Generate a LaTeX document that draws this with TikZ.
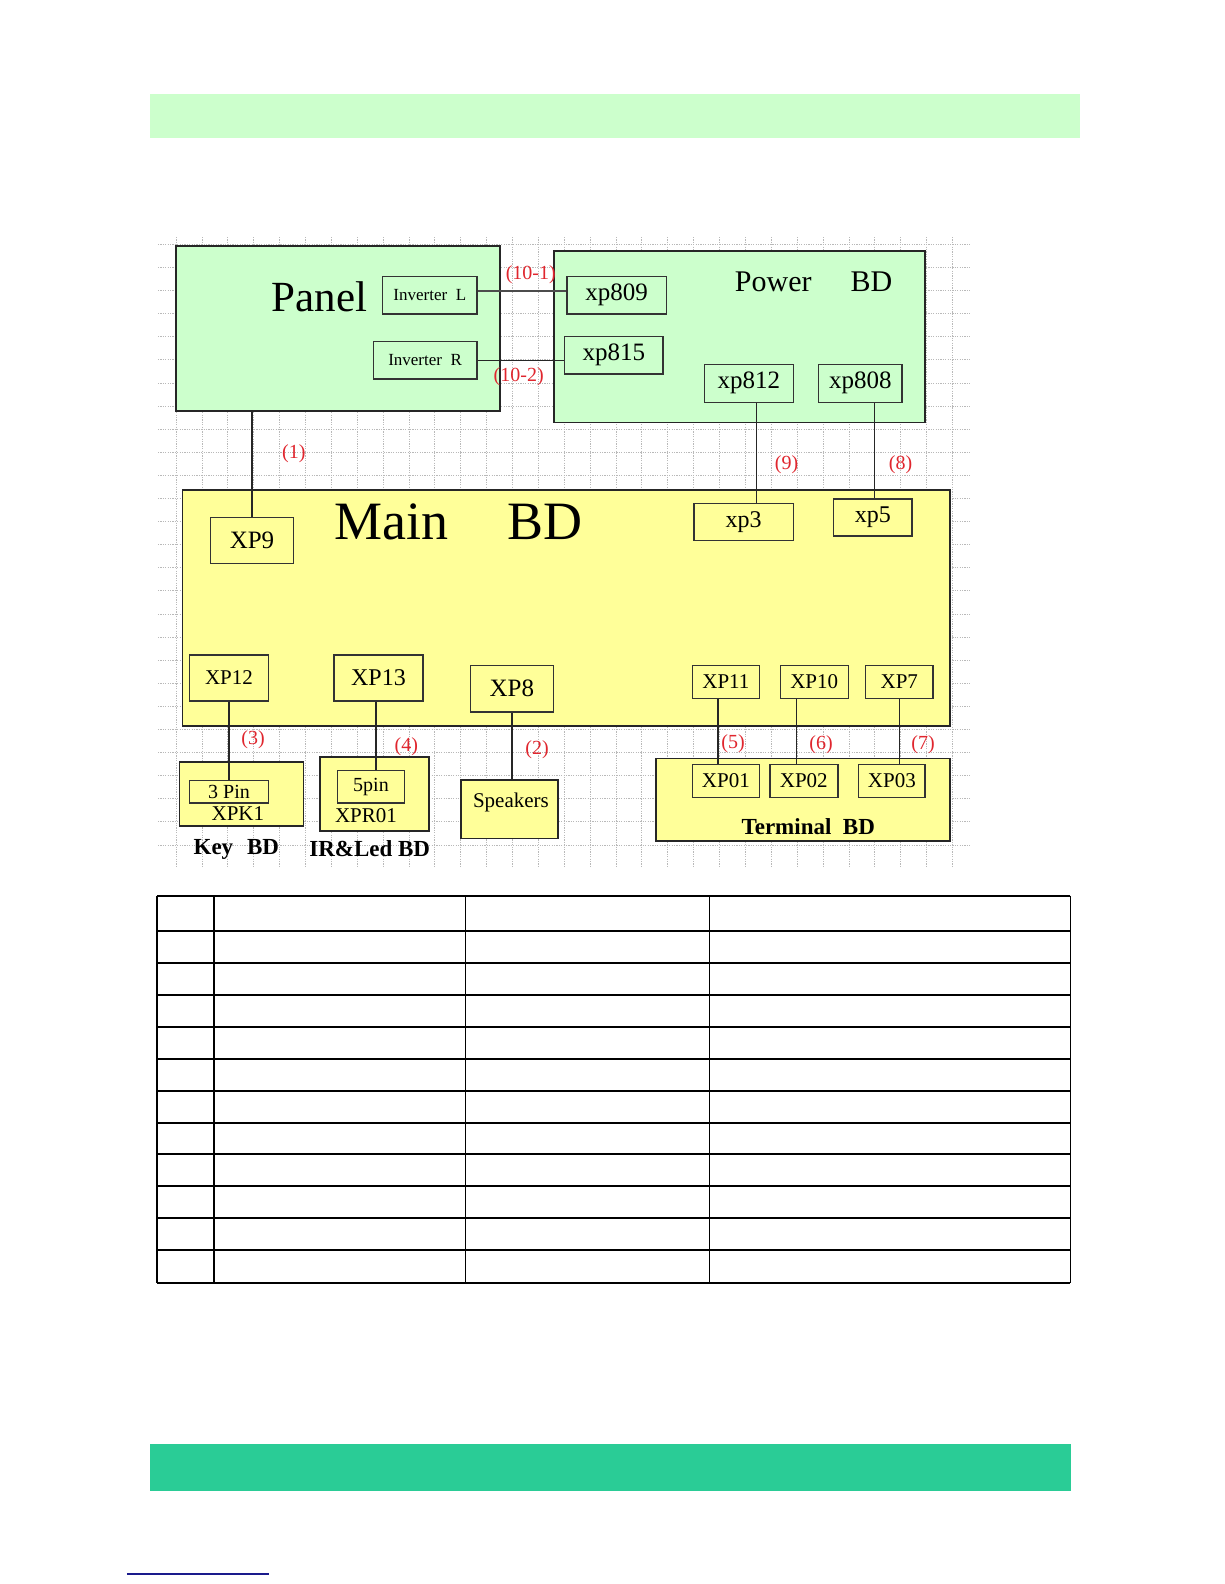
\documentclass[tikz,border=0pt]{standalone}
\usepackage{fontspec}
\setmainfont{Liberation Serif}
\definecolor{pgreen}{HTML}{CCFFCC}
\definecolor{pyellow}{HTML}{FFFF99}
\definecolor{barteal}{HTML}{2ACC96}
\definecolor{linkblue}{HTML}{1A1A8C}
\definecolor{tagred}{HTML}{E0262E}
\newcommand{\fsz}[1]{\fontsize{#1}{#1}\selectfont}
\tikzset{
  gridline/.style={gray!55, line width=0.7, dash pattern=on 1.2 off 1.2},
  board/.style={draw=black!85, line width=1.6, inner sep=0},
  part/.style={draw=black!80, line width=1.4, inner sep=0},
  wire/.style={black!85, line width=1.4},
  tag/.style={text=tagred, font=\fsz{20}, inner sep=0},
  title/.style={anchor=base west, inner sep=0},
}
\begin{document}
\begin{tikzpicture}[x=1pt,y=-1pt]
 \useasboundingbox[fill=white] (0,0) rectangle (1224,1584);
 \fill[pgreen] (150,94) rectangle (1080,138);
 \fill[barteal] (150,1444) rectangle (1071,1491);
 \draw[linkblue, line width=1.5] (126.8,1574) -- (269,1574);
 \foreach \i in {0,...,30}
   \draw[gridline] ({176+25.88*\i},237) -- ({176+25.88*\i},866);
 \foreach \j in {0,...,26}
   \draw[gridline] (158,{244.3+23.1*\j}) -- (971,{244.3+23.1*\j});

 % panel and power board
 \node[board, fill=pgreen, minimum width=324, minimum height=165] (panel) at (338,328.5) {};
 \node[title, font=\fsz{43}] (paneltitle) at (271.3,311.7) {Panel};
 \node[part, fill=pgreen, minimum width=94.2, minimum height=37.3, font=\fsz{17}] (invL) at (429.8,295.3) {Inverter\ \ L};
 \node[part, fill=pgreen, minimum width=103.6, minimum height=37.3, font=\fsz{17}] (invR) at (425.1,360.3) {Inverter\ \ R};
 \node[board, fill=pgreen, minimum width=371.2, minimum height=171.6] (power) at (739.4,336.5) {};
 \node[title, font=\fsz{30}] (powertitle) at (734.7,291) {Power\hspace{1.3em}BD};
 \node[part, fill=pgreen, minimum width=99.4, minimum height=37.3, font=\fsz{25}] (xp809) at (616.5,295.3) {xp809};
 \node[part, fill=pgreen, minimum width=98.3, minimum height=37.3, font=\fsz{25}] (xp815) at (613.9,355.3) {xp815};
 \node[part, fill=pgreen, minimum width=88.9, minimum height=38, font=\fsz{25}] (xp812) at (748.9,383.3) {xp812};
 \node[part, fill=pgreen, minimum width=83.7, minimum height=38, font=\fsz{25}] (xp808) at (860.3,383.3) {xp808};
 \draw[black!70, line width=2.8] ([yshift=4.3]invL.east) -- ([yshift=4.3]invL.east -| xp809.west);
 \draw[wire] (invR.east) -- (invR.east -| xp815.west);
 \node[tag] (t101) at (530.8,275) {(10-1)};
 \node[tag] (t102) at (518.7,376.7) {(10-2)};

 % main board
 \node[board, fill=pyellow, minimum width=767.6, minimum height=235.7] (main) at (566.2,607.85) {};
 \node[title, font=\fsz{54}] (maintitle) at (334,539.3) {Main\hspace{1.1em}BD};
 \node[part, fill=pyellow, minimum width=82.6, minimum height=46.4, font=\fsz{25}] (XP9) at (252,540.5) {XP9};
 \node[part, fill=pyellow, minimum width=99.3, minimum height=37.4, font=\fsz{24}] (xp3) at (743.6,522) {xp3};
 \node[part, fill=pyellow, minimum width=78.4, minimum height=37, font=\fsz{24}] (xp5) at (872.8,517.5) {xp5};
 \node[part, fill=pyellow, minimum width=78.5, minimum height=46, font=\fsz{21}] (XP12) at (229,678) {XP12};
 \node[part, fill=pyellow, minimum width=89, minimum height=46, font=\fsz{24}] (XP13) at (378.5,678) {XP13};
 \node[part, fill=pyellow, minimum width=82.6, minimum height=46.7, font=\fsz{25}] (XP8) at (511.9,688.7) {XP8};
 \node[part, fill=pyellow, minimum width=67, minimum height=33.4, font=\fsz{21}] (XP11) at (725.9,682) {XP11};
 \node[part, fill=pyellow, minimum width=68, minimum height=33.4, font=\fsz{21}] (XP10) at (814.2,682) {XP10};
 \node[part, fill=pyellow, minimum width=67.5, minimum height=33.4, font=\fsz{21}] (XP7) at (899.3,682) {XP7};
 \coordinate (c9) at (756.7,0);
 \coordinate (c8) at (874.4,0);
 \draw[wire] (XP9.north) -- (XP9.north |- panel.south);
 \draw[wire] (xp812.south -| c9) -- (xp3.north -| c9);
 \draw[wire] (xp808.south -| c8) -- (xp5.north -| c8);
 \node[tag] (t1) at (293.8,454) {(1)};
 \node[tag] (t9) at (786.5,464.3) {(9)};
 \node[tag] (t8) at (900.5,464.3) {(8)};

 % small boards
 \node[board, fill=pyellow, minimum width=124, minimum height=63.7] (keybd) at (241.3,793.9) {};
 \node[part, fill=pyellow, minimum width=78.5, minimum height=22.7, font=\fsz{20}] (pin3) at (229,791.7) {3 Pin};
 \node[inner sep=0, font=\fsz{21}] (xpk1) at (237.9,813.3) {XPK1};
 \node[inner sep=0, font=\fsz{23}\bfseries] (keylabel) at (236.3,849.3) {Key\hspace{0.6em}BD};
 \node[board, fill=pyellow, minimum width=108.8, minimum height=74] (irbd) at (374.4,793.7) {};
 \node[part, fill=pyellow, minimum width=67.5, minimum height=32.3, font=\fsz{20}] (pin5) at (371,786.8) {5pin};
 \node[inner sep=0, font=\fsz{21}] (xpr01) at (366,815.7) {XPR01};
 \node[inner sep=0, font=\fsz{23}\bfseries] (irlabel) at (369.7,848.3) {IR\&Led BD};
 \node[board, fill=pyellow, minimum width=97.3, minimum height=58.3] (spk) at (509.4,809.2) {};
 \node[inner sep=0, font=\fsz{21}] (spktext) at (510.9,802.7) {Speakers};
 \node[board, fill=pyellow, minimum width=294.5, minimum height=82.7] (termbd) at (803,799.7) {};
 \node[part, fill=pyellow, minimum width=67, minimum height=33.4, font=\fsz{21}] (XP01) at (725.9,781) {XP01};
 \node[part, fill=pyellow, minimum width=68, minimum height=33.4, font=\fsz{21}] (XP02) at (803.8,781) {XP02};
 \node[part, fill=pyellow, minimum width=66.4, minimum height=33.4, font=\fsz{21}] (XP03) at (891.9,781) {XP03};
 \node[inner sep=0, font=\fsz{23}\bfseries] (termlabel) at (808.2,826.7) {Terminal\ \ BD};
 \coordinate (c4) at (376,0);
 \coordinate (c5) at (718,0);
 \coordinate (c6) at (796.4,0);
 \draw[wire] (XP12.south) -- (XP12.south |- pin3.north);
 \draw[wire] (XP13.south -| c4) -- (pin5.north -| c4);
 \draw[wire] (XP8.south) -- (XP8.south |- spk.north);
 \draw[wire] (XP11.south -| c5) -- (XP01.north -| c5);
 \draw[wire] (XP10.south -| c6) -- (XP02.north -| c6);
 \draw[wire] (XP7.south) -- (XP7.south |- XP03.north);
 \node[tag] (t3) at (253,740) {(3)};
 \node[tag] (t4) at (406.3,746.7) {(4)};
 \node[tag] (t2) at (537,749.3) {(2)};
 \node[tag] (t5) at (733,744) {(5)};
 \node[tag] (t6) at (821,745) {(6)};
 \node[tag] (t7) at (923,744.3) {(7)};

 % table
 \foreach \y in {895.7,930.7,962.7,994.7,1026.7,1058.7,1090.7,1122.7,1154.3,1185.7,1217.7,1250.3,1283.3}
   \draw[line width=1.8] (156.8,\y) -- (1070.4,\y);
 \foreach \x in {156.8,213.7,465.5,709.5,1070.4}
   \draw[line width=1.8] (\x,895.7) -- (\x,1283.3);
\end{tikzpicture}
\end{document}
